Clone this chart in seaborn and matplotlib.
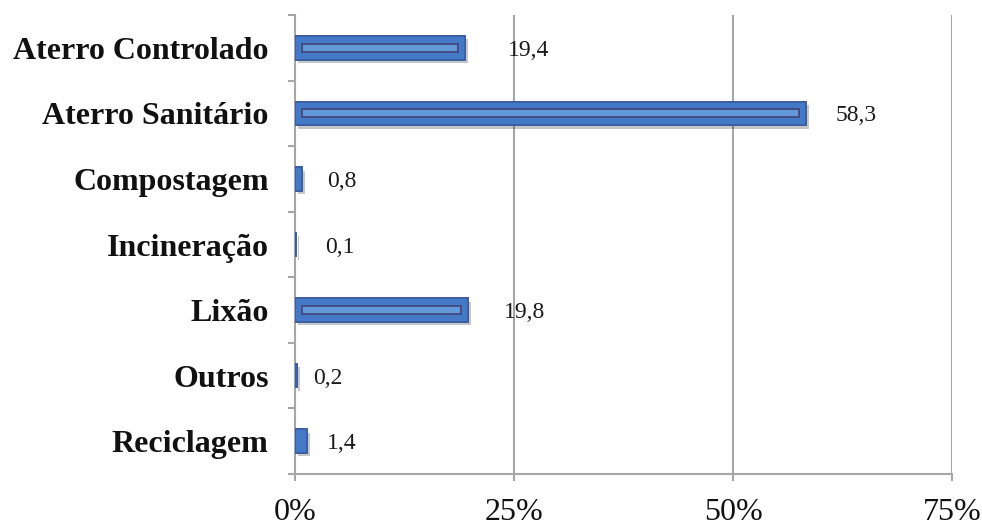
import matplotlib
matplotlib.use("Agg")
import matplotlib.pyplot as plt
import matplotlib.patheffects as pe
import seaborn as sns
import pandas as pd

categories = ["Aterro Controlado", "Aterro Sanitário", "Compostagem", "Incineração",
              "Lixão", "Outros", "Reciclagem"]
values = [19.4, 58.3, 0.8, 0.1, 19.8, 0.2, 1.4]
value_labels = ["19,4", "58,3", "0,8", "0,1", "19,8", "0,2", "1,4"]
xticks = [0, 25, 50, 75]
xtick_labels = ["0%", "25%", "50%", "75%"]

df = pd.DataFrame({"cat": categories, "val": values})

sns.set_theme(style="white")
plt.rcParams["font.family"] = ["Liberation Serif", "DejaVu Serif"]
plt.rcParams["text.color"] = "#111111"
plt.rcParams["xtick.color"] = "#111111"
plt.rcParams["ytick.color"] = "#111111"

fig = plt.figure(figsize=(9.82, 5.27), dpi=100)
ax = fig.add_axes([0.3004, 0.1006, 0.6691, 0.8709])

grid_col = "#A6A6A6"
for t in xticks[1:]:
    ax.axvline(t, color=grid_col, lw=1.5, zorder=0)

bar_h = 0.36
sns.barplot(data=df, y="cat", x="val", orient="h", color="#4479C8", width=bar_h,
            edgecolor="#3A5C9E", linewidth=1.2, saturation=1, ax=ax, zorder=3)
for p in ax.patches:
    p.set_path_effects([pe.withSimplePatchShadow(offset=(2, -2.5), shadow_rgbFace="#000000", alpha=0.22),
                        pe.Normal()])

# inner highlight of the bevel
inset = 0.8
inner = df[df["val"] > 3]
for i, v in zip(inner.index, inner["val"]):
    ax.barh(i, v - 2 * inset, left=inset, height=0.12, color="#629AD9",
            edgecolor="#44487E", linewidth=1.3, zorder=4)

offsets = [43, 30, 25, 29, 35, 16, 20]
for i, (v, lab, off) in enumerate(zip(values, value_labels, offsets)):
    ax.annotate(lab, (v, i), xytext=(off * 0.72, 0), textcoords="offset points",
                ha="left", va="center_baseline", fontsize=17, color="#1a1a1a")

ax.set_xlim(0, 75)
ax.set_ylim(6.5, -0.5)
ax.set_xticks(xticks)
ax.set_xticklabels(xtick_labels, fontsize=23)
ax.set_yticks(range(len(categories)))
ax.set_yticklabels(categories, fontsize=23, fontweight="bold")
ax.set_yticks([k - 0.5 for k in range(len(categories) + 1)], minor=True)
ax.tick_params(axis="y", which="major", length=0, pad=19)
ax.tick_params(axis="y", which="minor", length=5, width=1.5, color=grid_col, left=True)
ax.tick_params(axis="x", which="major", length=5, width=1.5, color=grid_col, bottom=True, pad=12)
ax.set_xlabel("")
ax.set_ylabel("")
for s in ["top", "right"]:
    ax.spines[s].set_visible(False)
for s in ["left", "bottom"]:
    ax.spines[s].set_color(grid_col)
    ax.spines[s].set_linewidth(1.5)

fig.savefig("out.png", dpi=100)
